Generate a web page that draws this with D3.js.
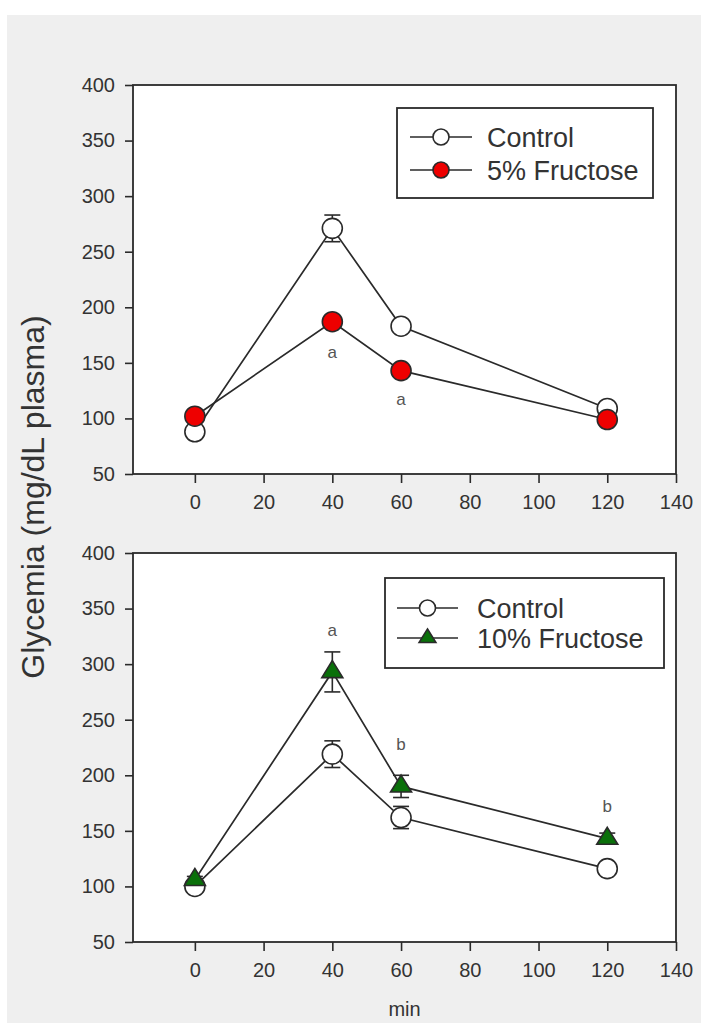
<!DOCTYPE html>
<html>
<head>
<meta charset="utf-8">
<script src="https://cdn.jsdelivr.net/npm/d3@7"></script>
<style>
  html, body { margin: 0; padding: 0; background: #fff; }
  svg { display: block; font-family: "Liberation Sans", Arial, sans-serif; }
</style>
</head>
<body>
<div id="chart"></div>
<script>
// ===== Data =====
const timePoints = [0, 40, 60, 120];
const xTicks = [0, 20, 40, 60, 80, 100, 120, 140];
const yTicks = [50, 100, 150, 200, 250, 300, 350, 400];

// top panel
const controlTop = [88, 271, 183, 109];
const controlTopErr = [4, 12, 5, 4];
const fructose5 = [102, 187, 143, 99];
const fructose5Err = [4, 5, 5, 3];
const topLetters = ["", "a", "a", ""];
const topLetterY = [null, 160, 117, null];

// bottom panel
const controlBottom = [100, 219, 162, 116];
const controlBottomErr = [3, 12, 10, 4];
const fructose10 = [106, 293, 190, 143];
const fructose10Err = [3, 18, 10, 5];
const bottomLetters = ["", "a", "b", "b"];
const bottomLetterY = [null, 331, 228, 172];

(function () {
  const W = 701, H = 1023;
  const ink = "#2a2a2a", txt = "#333";

  const svg = d3.select("#chart").append("svg")
    .attr("width", W).attr("height", H);

  // gray page background (white strip top/left)
  svg.append("rect").attr("x", 7).attr("y", 15)
    .attr("width", W - 7).attr("height", H - 15).attr("fill", "#efefef");

  const x = d3.scaleLinear().domain([-18, 140]).range([133, 676]);

  function panel(opts) {
    const { top, bottom, series, letters, letterY, legendBox, showTitle } = opts;
    const y = d3.scaleLinear().domain([50, 400]).range([bottom, top]);
    const g = svg.append("g");

    g.append("rect")
      .attr("x", x.range()[0]).attr("y", top)
      .attr("width", x.range()[1] - x.range()[0]).attr("height", bottom - top)
      .attr("fill", "#fff");

    // axes
    const ya = g.append("g")
      .attr("transform", `translate(${x.range()[0]},0)`)
      .call(d3.axisLeft(y).tickValues(yTicks).tickSize(8).tickPadding(10));
    const xa = g.append("g")
      .attr("transform", `translate(0,${bottom})`)
      .call(d3.axisBottom(x).tickValues(xTicks).tickSize(9).tickPadding(12));
    [ya, xa].forEach(a => {
      a.select(".domain").remove();
      a.selectAll("line").attr("stroke", ink).attr("stroke-width", 1.6);
      a.selectAll("text").attr("fill", txt).style("font-size", "20px")
        .style("font-family", "'Liberation Sans', Arial, sans-serif");
    });

    // frame
    g.append("rect")
      .attr("x", x.range()[0]).attr("y", top)
      .attr("width", x.range()[1] - x.range()[0]).attr("height", bottom - top)
      .attr("fill", "none").attr("stroke", ink).attr("stroke-width", 1.8);

    const line = d3.line().x(d => x(d.t)).y(d => y(d.v));

    // lines
    series.forEach(s => {
      const pts = timePoints.map((t, i) => ({ t, v: s.values[i] }));
      g.append("path").datum(pts).attr("d", line)
        .attr("fill", "none").attr("stroke", ink).attr("stroke-width", 1.7);
    });

    // error bars + markers
    series.forEach(s => {
      const pts = timePoints.map((t, i) => ({ t, v: s.values[i], e: s.err[i] }));
      const eb = g.append("g").attr("stroke", ink).attr("stroke-width", 1.6);
      pts.forEach(d => {
        eb.append("line").attr("x1", x(d.t)).attr("x2", x(d.t))
          .attr("y1", y(d.v - d.e)).attr("y2", y(d.v + d.e));
        [d.v - d.e, d.v + d.e].forEach(v => {
          eb.append("line").attr("x1", x(d.t) - 8).attr("x2", x(d.t) + 8)
            .attr("y1", y(v)).attr("y2", y(v));
        });
      });
      g.selectAll(null).data(pts).enter().append("path")
        .attr("transform", d => `translate(${x(d.t)},${y(d.v)})`)
        .attr("d", s.symbol(1))
        .attr("fill", s.fill).attr("stroke", ink).attr("stroke-width", 1.6);
    });

    // significance letters
    timePoints.forEach((t, i) => {
      if (!letters[i]) return;
      g.append("text").attr("x", x(t)).attr("y", y(letterY[i]))
        .attr("dy", "0.35em").attr("text-anchor", "middle")
        .attr("fill", "#555").style("font-size", "17px").text(letters[i]);
    });

    // legend
    const lb = legendBox;
    g.append("rect").attr("x", lb.x).attr("y", lb.y).attr("width", lb.w).attr("height", lb.h)
      .attr("fill", "#fff").attr("stroke", ink).attr("stroke-width", 1.8);
    series.forEach((s, i) => {
      const cy = lb.y + lb.rowY[i];
      g.append("line").attr("x1", lb.x + lb.lineX[0]).attr("x2", lb.x + lb.lineX[1])
        .attr("y1", cy).attr("y2", cy).attr("stroke", ink).attr("stroke-width", 1.6);
      g.append("path")
        .attr("transform", `translate(${lb.x + (lb.lineX[0] + lb.lineX[1]) / 2},${cy})`)
        .attr("d", s.symbol(0.8))
        .attr("fill", s.fill).attr("stroke", ink).attr("stroke-width", 1.6);
      g.append("text").attr("x", lb.x + lb.textX).attr("y", cy).attr("dy", "0.36em")
        .attr("fill", txt).style("font-size", "27px").text(s.name);
    });

    if (showTitle) {
      g.append("text").attr("x", (x.range()[0] + x.range()[1]) / 2).attr("y", 1016)
        .attr("text-anchor", "middle").attr("fill", txt)
        .style("font-size", "20px").text("min");
    }
  }

  const circle = k => d3.symbol(d3.symbolCircle, Math.PI * (10 * k) * (10 * k))();
  const triangle = k => {
    const w = 21 * k, h = 17 * k;
    const p = d3.path();
    p.moveTo(0, -h * 2 / 3); p.lineTo(w / 2, h / 3); p.lineTo(-w / 2, h / 3); p.closePath();
    return p.toString();
  };

  panel({
    top: 85, bottom: 474,
    series: [
      { name: "Control", values: controlTop, err: controlTopErr, fill: "#fff", symbol: circle },
      { name: "5% Fructose", values: fructose5, err: fructose5Err, fill: "#ee0000", symbol: circle }
    ],
    letters: topLetters, letterY: topLetterY,
    legendBox: { x: 397, y: 108, w: 256, h: 90, rowY: [29, 62], lineX: [13, 75], textX: 90 },
    showTitle: false
  });

  panel({
    top: 553, bottom: 942,
    series: [
      { name: "Control", values: controlBottom, err: controlBottomErr, fill: "#fff", symbol: circle },
      { name: "10% Fructose", values: fructose10, err: fructose10Err, fill: "#0a700a", symbol: triangle }
    ],
    letters: bottomLetters, letterY: bottomLetterY,
    legendBox: { x: 385, y: 578, w: 279, h: 90, rowY: [30, 60], lineX: [12, 73], textX: 92 },
    showTitle: true
  });

  // shared y-axis title
  svg.append("text")
    .attr("transform", "translate(44,497) rotate(-90)")
    .attr("text-anchor", "middle").attr("fill", txt)
    .style("font-size", "32px").text("Glycemia (mg/dL plasma)");
})();
</script>
</body>
</html>
